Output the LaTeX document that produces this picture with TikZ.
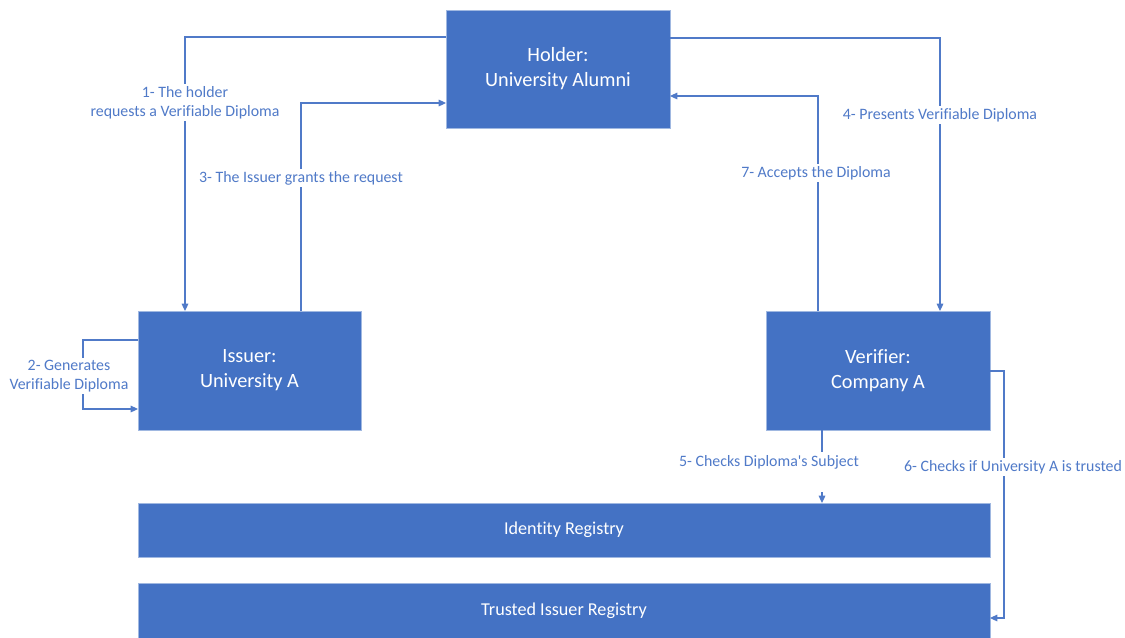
\documentclass[tikz,border=0pt]{standalone}
\usepackage{fontspec}
\setmainfont{Carlito}[Ligatures={TeXOff,CommonOff}]
\usetikzlibrary{arrows.meta}
\definecolor{boxblue}{RGB}{68,114,196}
\definecolor{edgeblue}{RGB}{160,184,225}
\definecolor{lineblue}{RGB}{80,122,200}
\begin{document}
\begin{tikzpicture}[x=0.75pt,y=-0.75pt,
  actor/.style={fill=boxblue,draw=edgeblue,line width=0.5pt,text=white,
    font=\fontsize{15.2}{18.8}\selectfont,align=center,inner sep=0pt},
  registry/.style={actor,font=\fontsize{13.6}{16}\selectfont},
  flow/.style={draw=lineblue,line width=0.8pt,-{Triangle[length=5.5pt,width=5pt]}},
  step label/.style={fill=white,text=lineblue,font=\fontsize{11.9}{14.3}\selectfont,
    align=center,inner sep=1.5pt},
  gap/.style={fill=white,inner sep=0pt,minimum width=4pt}]
\useasboundingbox (0,0) rectangle (1125,637);

% parties
\node[actor,minimum width=168pt,minimum height=88.5pt] (holder) at (558,69) {Holder:\\University Alumni};
\node[actor,minimum width=167pt,minimum height=89pt] (issuer) at (249.5,370.5) {Issuer:\\University A};
\node[actor,minimum width=168pt,minimum height=89pt] (verifier) at (878,370.5) {Verifier:\\Company A};

% registries
\node[registry,minimum width=639pt,minimum height=40.5pt] (idreg) at (564,530) {Identity Registry};
\node[registry,minimum width=639pt,minimum height=42pt] (trustreg) at (564,611) {Trusted Issuer Registry};

% anchor points of the connectors
\coordinate (h1) at (446,37);
\coordinate (c1) at (185,37);
\coordinate (i1) at (185,311);
\coordinate (i3) at (301,311);
\coordinate (c3) at (301,103);
\coordinate (h3) at (446,103);
\coordinate (h4) at (670,38);
\coordinate (c4) at (940,38);
\coordinate (v4) at (940,311);
\coordinate (v7) at (818,311);
\coordinate (c7) at (818,96);
\coordinate (h7) at (670,96);
\coordinate (i2a) at (138,340);
\coordinate (c2a) at (83,340);
\coordinate (c2b) at (83,409);
\coordinate (i2b) at (138,409);
\coordinate (v5) at (822,430);
\coordinate (r5) at (822,503);
\coordinate (v6) at (990,371);
\coordinate (c6a) at (1004,371);
\coordinate (c6b) at (1004,618);
\coordinate (r6) at (990,618);

% connectors
\draw[flow] (h1) -- (c1) -- (i1);
\draw[flow] (i3) -- (c3) -- (h3);
\draw[flow] (h4) -- (c4) -- (v4);
\draw[flow] (v7) -- (c7) -- (h7);
\draw[flow] (i2a) -- (c2a) -- (c2b) -- (i2b);
\draw[flow] (v5) -- (r5);
\draw[flow] (v6) -- (c6a) -- (c6b) -- (r6);

% step labels
\node[step label] (l1) at (185,102.5) {1- The holder\\requests a Verifiable Diploma};
\node[step label] (l3) at (301,178) {3- The Issuer grants the request};
\node[step label] (l4) at (940,115) {4- Presents Verifiable Diploma};
\node[step label] (l7) at (816,173) {7- Accepts the Diploma};
\node[step label] (l2) at (69,376) {2- Generates\\Verifiable Diploma};
\node[gap,minimum height=30pt] (g5) at (822,472) {};
\node[step label,fill=none] (l5) at (769,462) {5- Checks Diploma's Subject};
\node[step label] (l6) at (1013,467) {6- Checks if University A is trusted};
\end{tikzpicture}
\end{document}
